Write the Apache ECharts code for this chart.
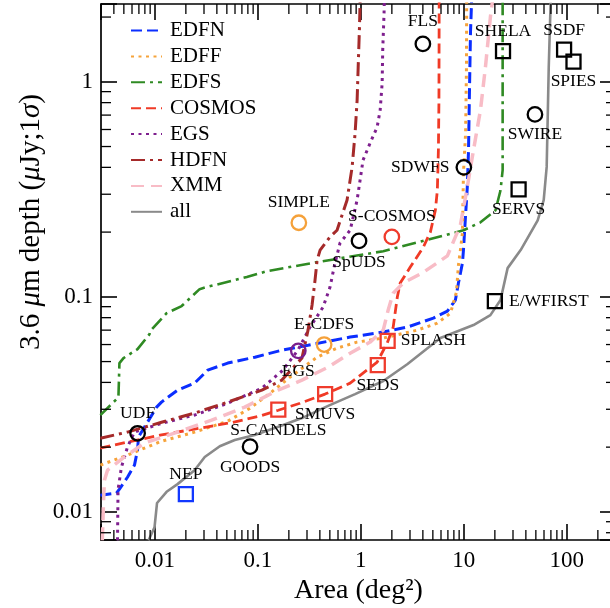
<!DOCTYPE html>
<html>
<head>
<meta charset="utf-8">
<script src="https://cdn.jsdelivr.net/npm/echarts@6/dist/echarts.min.js"></script>
<style>
  html, body { margin: 0; padding: 0; background: #fff; }
  #chart { width: 610px; height: 608px; }
</style>
</head>
<body>
<div id="chart"></div>
<script>
// Cumulative 3.6 micron depth versus survey area: [area (deg^2), 1-sigma depth (uJy)]
const EDFN = [[0.00296,0.01196],[0.00424,0.01222],[0.00453,0.01276],[0.00542,0.01449],[0.00634,0.0165],
  [0.00679,0.0194],[0.00694,0.0223],[0.00794,0.0248],[0.0104,0.0307],[0.0116,0.0324],[0.0166,0.0368],
  [0.0243,0.0397],[0.0326,0.0456],[0.051,0.0492],[0.0935,0.0524],[0.171,0.0565],[0.307,0.0596],
  [0.787,0.065],[1.65,0.0686],[2.82,0.0723],[5.06,0.0796],[6.92,0.0858],[8.28,0.0966],[8.86,0.116],
  [9.69,0.1436],[9.91,0.165],[10.8,0.324],[11.1,0.481],[11.3,0.822],[11.6,1.69],[11.9,2.4]];
const EDFF = [[0.00296,0.0165],[0.00542,0.01835],[0.00794,0.0198],[0.0116,0.0213],[0.0243,0.0235],
  [0.051,0.0264],[0.0836,0.0303],[0.131,0.0356],[0.205,0.0423],[0.376,0.0524],[0.587,0.0577],
  [0.92,0.0616],[1.65,0.0643],[3.53,0.07],[5.53,0.0755],[7.41,0.0839],[8.47,0.1051],[8.86,0.1403],
  [9.26,0.165],[9.69,0.198],[9.91,0.376],[10.4,0.577],[10.6,1.17],[10.65,2.4]];
const EDFS = [[0.00296,0.0282],[0.00379,0.0317],[0.00443,0.0341],[0.00453,0.0492],[0.00496,0.0519],
  [0.00679,0.0571],[0.00888,0.0671],[0.00898,0.0692],[0.013,0.0839],[0.0182,0.0906],[0.0272,0.1086],
  [0.0318,0.111],[0.0781,0.1236],[0.122,0.1316],[0.257,0.1403],[0.376,0.145],[1.65,0.163],
  [4.43,0.184],[9.91,0.204],[14.5,0.222],[20.3,0.253],[22.7,0.313],[23.8,0.388],[23.8,0.822],[23.8,2.4]];
const COSMOS = [[0.00296,0.0198],[0.00542,0.0211],[0.0116,0.0228],[0.0272,0.0245],[0.0571,0.0261],
  [0.1045,0.0279],[0.158,0.0297],[0.257,0.032],[0.449,0.0353],[0.787,0.0397],[1.05,0.0442],
  [1.44,0.0497],[1.8,0.0609],[2.06,0.0723],[2.26,0.0998],[2.41,0.1159],[3.02,0.1375],[4.04,0.17],
  [4.73,0.2],[5.29,0.253],[5.53,0.313],[5.66,0.481],[5.73,0.822],[5.76,2.4]];
const EGS = [[0.00434,0.00738],[0.00439,0.01262],[0.00473,0.0161],[0.00542,0.02],[0.00634,0.0235],
  [0.0116,0.0258],[0.0243,0.0282],[0.051,0.032],[0.1094,0.0376],[0.175,0.0456],[0.245,0.0565],
  [0.321,0.0723],[0.43,0.0896],[0.502,0.111],[0.55,0.1375],[0.628,0.178],[0.787,0.204],[0.92,0.282],
  [1.05,0.432],[1.23,0.519],[1.44,0.616],[1.54,0.739],[1.61,0.987],[1.63,1.4],[1.68,2.09],[1.69,2.4]];
const HDFN = [[0.00296,0.022],[0.00542,0.0235],[0.0116,0.0261],[0.0243,0.0288],[0.051,0.0324],
  [0.1094,0.0368],[0.171,0.041],[0.268,0.0519],[0.307,0.07],[0.336,0.0916],[0.359,0.1196],
  [0.376,0.148],[0.402,0.165],[0.502,0.19],[0.587,0.204],[0.735,0.282],[0.823,0.402],[0.879,0.577],
  [0.92,0.822],[0.942,1.17],[0.97,1.8],[0.984,2.4]];
const XMM = [[0.00309,0.00738],[0.00318,0.01133],[0.00324,0.01403],[0.00347,0.01563],[0.00507,0.018],
  [0.00794,0.0209],[0.0166,0.0235],[0.0356,0.0267],[0.0746,0.0307],[0.157,0.0368],[0.268,0.041],
  [0.481,0.0471],[0.787,0.0547],[1.23,0.0616],[1.65,0.07],[1.84,0.0867],[2.06,0.104],[2.58,0.1159],
  [4.04,0.13],[6.92,0.155],[9.26,0.216],[10.8,0.324],[12.4,0.481],[14.5,0.739],[16.2,1.17],
  [18.1,2.0],[19.0,2.4]];
const ALL = [[0.00869,0.00738],[0.00993,0.00849],[0.0105,0.011],[0.013,0.0124],[0.0166,0.01346],
  [0.0243,0.01563],[0.0305,0.018],[0.0427,0.0202],[0.0597,0.0216],[0.0935,0.0228],[0.171,0.0252],
  [0.268,0.0273],[0.481,0.0311],[0.879,0.0353],[1.65,0.0406],[2.82,0.0486],[5.92,0.0643],
  [12.4,0.0739],[18.1,0.0822],[22.7,0.0966],[26.6,0.136],[35.6,0.165],[52.1,0.227],[59.6,0.282],
  [63.7,0.402],[65.2,0.686],[66.7,1.17],[69.7,2.4]];

// Individual surveys: [name, area (deg^2), depth (uJy)]
const blackCircles = [['FLS',4.0,1.5],['SDWFS',10.0,0.40],['SWIRE',49,0.705],['SpUDS',0.96,0.182],
  ['UDF',0.0068,0.0232],['GOODS',0.084,0.0201]];
const blackSquares = [['SHELA',24,1.39],['SSDF',94,1.41],['SPIES',116,1.24],['SERVS',34,0.316],
  ['E/WFIRST',20,0.0955]];
const redSquares = [['SPLASH',1.82,0.0624],['SEDS',1.46,0.0481],['SMUVS',0.45,0.0353],
  ['S-CANDELS',0.158,0.0299]];
const redCircles = [['S-COSMOS',2.0,0.19]];
const orangeCircles = [['SIMPLE',0.25,0.221],['E-CDFS',0.44,0.060]];
const purpleCircles = [['EGS',0.247,0.0561]];
const blueSquares = [['NEP',0.020,0.0121]];

const xTickLabels = ['0.01','0.1','1','10','100'];
const yTickLabels = ['0.01','0.1','1'];

const X_MIN = 0.003, X_MAX = 300, Y_MIN = 0.0074, Y_MAX = 2.3;
const FONT = 'Liberation Serif';

// label placement around each survey marker
const labelPlace = {
  'FLS':['top',5], 'SHELA':['top',2], 'SSDF':['top',2], 'SPIES':['bottom',3], 'SWIRE':['bottom',3],
  'SDWFS':['left',6], 'SERVS':['bottom',3], 'S-COSMOS':['top',3], 'SpUDS':['bottom',4],
  'SIMPLE':['top',3], 'E-CDFS':['top',3], 'EGS':['bottom',3], 'SPLASH':['right',5], 'SEDS':['bottom',3],
  'SMUVS':['bottom',3], 'S-CANDELS':['bottom',4], 'GOODS':['bottom',3], 'UDF':['top',2], 'NEP':['top',3],
  'E/WFIRST':['right',6]
};

const lineDefs = [
  {name:'EDFN', data:EDFN, color:'#0b2eff', dash:[11,5], width:3},
  {name:'EDFF', data:EDFF, color:'#f6a33b', dash:[3,4.5], width:3},
  {name:'EDFS', data:EDFS, color:'#2f8a23', dash:[14,5,3,5], width:2.6},
  {name:'COSMOS', data:COSMOS, color:'#f03a26', dash:[10,5], width:2.8},
  {name:'EGS', data:EGS, color:'#7e1f8e', dash:[3,4.5], width:3},
  {name:'HDFN', data:HDFN, color:'#a52a2a', dash:[14,5,3,5], width:3},
  {name:'XMM', data:XMM, color:'#f8bcc6', dash:[13,7], width:3.5},
  {name:'all', data:ALL, color:'#8a8a8a', dash:'solid', width:2.6}
];

function powLabel(v, labels) {
  const e = Math.log10(v);
  if (Math.abs(e - Math.round(e)) > 1e-6) return '';
  const n = Math.round(e);
  const s = n >= 0 ? String(Math.round(Math.pow(10, n))) : Math.pow(10, n).toFixed(-n);
  return labels.indexOf(s) >= 0 ? s : '';
}

// minor tick positions (2..9 times each decade) inside the axis range
const minorMult = [2,3,4,5,6,7,8,9];
function minorTicks(lo, hi) {
  const out = [];
  for (let e = Math.floor(Math.log10(lo)); e <= Math.ceil(Math.log10(hi)); e++) {
    minorMult.forEach(m => { const v = m * Math.pow(10, e); if (v > lo && v < hi) out.push(v); });
  }
  return out;
}

const spine = {show:true, onZero:false, lineStyle:{color:'#000', width:1.7}};
const majorTick = {show:true, inside:true, length:16, lineStyle:{color:'#000', width:1.6}};

const lineSeries = lineDefs.map(d => ({
  name: d.name, type:'line', data: d.data, symbol:'none', showSymbol:false, smooth:false,
  clip:true, z:3,
  lineStyle:{color:d.color, width:d.width, type:d.dash, cap:'butt'},
  itemStyle:{color:d.color}
}));

function markerSeries(list, shape, color, size) {
  return {
    type:'scatter', symbol:shape, symbolSize:size, z:5, silent:true,
    itemStyle:{color:'rgba(0,0,0,0)', borderColor:color, borderWidth:2.3, opacity:1},
    label:{show:true, formatter:'{b}', fontFamily:FONT, fontSize:17.5, color:'#000'},
    data: list.map(s => ({
      name:s[0], value:[s[1], s[2]],
      label:{position:labelPlace[s[0]][0], distance:labelPlace[s[0]][1]}
    }))
  };
}

const xMinor = minorTicks(X_MIN, X_MAX);
const yMinor = minorTicks(Y_MIN, Y_MAX);

const minorTickSeries = [
  {
    type:'custom', silent:true, z:6, clip:false,
    data: xMinor.map(v => [v, Y_MIN]), encode:{x:0, y:1},
    renderItem(params, api) {
      const cs = params.coordSys;
      const px = api.coord([api.value(0), Y_MIN])[0];
      const st = {stroke:'#000', lineWidth:1.3};
      return {type:'group', children:[
        {type:'line', shape:{x1:px, y1:cs.y + cs.height, x2:px, y2:cs.y + cs.height - 10}, style:st},
        {type:'line', shape:{x1:px, y1:cs.y, x2:px, y2:cs.y + 10}, style:st}
      ]};
    }
  },
  {
    type:'custom', silent:true, z:6, clip:false,
    data: yMinor.map(v => [X_MIN, v]), encode:{x:0, y:1},
    renderItem(params, api) {
      const cs = params.coordSys;
      const py = api.coord([X_MIN, api.value(1)])[1];
      const st = {stroke:'#000', lineWidth:1.3};
      return {type:'group', children:[
        {type:'line', shape:{x1:cs.x, y1:py, x2:cs.x + 10, y2:py}, style:st},
        {type:'line', shape:{x1:cs.x + cs.width, y1:py, x2:cs.x + cs.width - 10, y2:py}, style:st}
      ]};
    }
  }
];

const chart = echarts.init(document.getElementById('chart'), null, {renderer:'canvas'});
chart.setOption({
  animation:false,
  backgroundColor:'#fff',
  grid:{left:101, top:4, width:515, height:536, containLabel:false, outerBoundsMode:'none'},
  legend:{
    data: lineDefs.map(d => d.name),
    orient:'vertical', left:130, top:20, padding:0, itemWidth:31, itemHeight:14, itemGap:4.9,
    itemStyle:{opacity:0},
    textStyle:{fontFamily:FONT, fontSize:21, color:'#000', lineHeight:21, padding:[0,0,0,3]},
    selectedMode:false
  },
  xAxis:[
    {type:'log', logBase:10, min:X_MIN, max:X_MAX, position:'bottom',
     axisLine:spine, axisTick:majorTick, splitLine:{show:false}, minorTick:{show:false},
     axisLabel:{fontFamily:FONT, fontSize:23, color:'#000', margin:9, formatter:v => powLabel(v, xTickLabels)},
     name:'Area (deg²)', nameLocation:'middle', nameGap:27,
     nameTextStyle:{fontFamily:FONT, fontSize:28, color:'#000'}},
    {type:'log', logBase:10, min:X_MIN, max:X_MAX, position:'top',
     axisLine:spine, axisTick:majorTick, splitLine:{show:false}, axisLabel:{show:false}}
  ],
  yAxis:[
    {type:'log', logBase:10, min:Y_MIN, max:Y_MAX, position:'left',
     axisLine:spine, axisTick:majorTick, splitLine:{show:false}, minorTick:{show:false},
     axisLabel:{fontFamily:FONT, fontSize:23, color:'#000', margin:8, formatter:v => powLabel(v, yTickLabels)}},
    {type:'log', logBase:10, min:Y_MIN, max:Y_MAX, position:'right',
     axisLine:spine, axisTick:majorTick, splitLine:{show:false}, axisLabel:{show:false}}
  ],
  graphic:[{
    type:'text', x:31, y:222, rotation:Math.PI / 2,
    style:{
      text:'3.6 {i|μ}m depth ({i|μ}Jy;1{i|σ})',
      fontFamily:FONT, fontSize:29, fill:'#000', align:'center', verticalAlign:'middle',
      rich:{i:{fontFamily:FONT, fontSize:29, fontStyle:'italic', fill:'#000'}}
    }
  }],
  series:[
    ...lineSeries,
    markerSeries(blackCircles, 'circle', '#000', 14.5),
    markerSeries(blackSquares, 'rect', '#000', 14),
    markerSeries(redSquares, 'rect', '#ef3b2c', 14),
    markerSeries(redCircles, 'circle', '#ef3b2c', 14.5),
    markerSeries(orangeCircles, 'circle', '#f5a13a', 14.5),
    markerSeries(purpleCircles, 'circle', '#7a1e8c', 14.5),
    markerSeries(blueSquares, 'rect', '#1238ff', 14),
    ...minorTickSeries
  ]
});
</script>
</body>
</html>
